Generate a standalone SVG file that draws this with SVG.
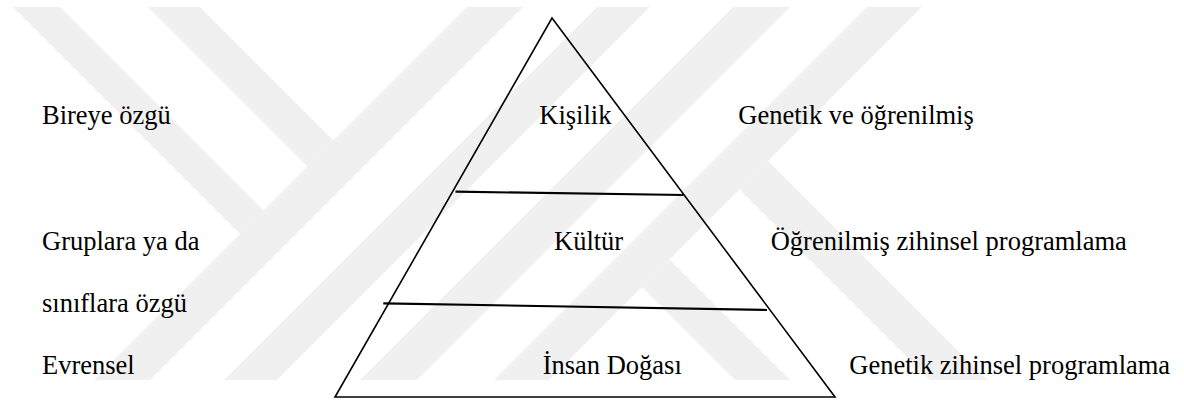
<svg xmlns="http://www.w3.org/2000/svg" width="1184" height="401" viewBox="0 0 1184 401">
<style>
  .t { font-family: 'Liberation Serif', 'Times New Roman', Times, 'DejaVu Serif', serif; font-size: 26.5px; fill: #000; }
  .wm { fill: #f0f0f0; }
  .edge { fill: none; stroke: #000; stroke-width: 1.6; stroke-linejoin: miter; }
  .div { stroke: #000; stroke-width: 2.2; fill: none; }
</style>
<defs>
  <clipPath id="wmclip"><rect x="0" y="7" width="1184" height="373"/></clipPath>
</defs>
<rect width="1184" height="401" fill="#fff"/>
<g id="watermark" clip-path="url(#wmclip)">
  <polygon class="wm" points="6,0 53,0 263.5,210.5 240,234"/>
  <polygon class="wm" points="141,0 193,0 333.5,140.5 307.5,166.5"/>
  <polygon class="wm" points="474,0 530,0 129,401 73,401"/>
  <polygon class="wm" points="604,0 657,0 256,401 203,401"/>
  <polygon class="wm" points="740,0 797,0 396,401 339,401"/>
  <polygon class="wm" points="874,0 929,0 528,401 473,401"/>
  <polygon class="wm" points="669.5,259.5 811,401 756,401 642,287"/>
  <polygon class="wm" points="768,161 1008,401 951,401 739.5,189.5"/>
</g>
<g id="pyramid">
  <polygon class="edge" points="552,18 835,397 335,397"/>
</g>
<g id="connectors">
  <line class="div" x1="455.5" y1="191.7" x2="683.5" y2="195"/>
  <line class="div" x1="383.3" y1="303.3" x2="767" y2="310"/>
</g>
<g id="level-kisilik">
  <text class="t" font-family="Liberation Serif, serif" x="539.3" y="124">Kişilik</text>
</g>
<g id="level-kultur">
  <text class="t" x="554" y="250">Kültür</text>
</g>
<g id="level-insan">
  <text class="t" x="542.7" y="374">İnsan Doğası</text>
</g>
<g id="left-labels">
  <text class="t" x="42" y="124">Bireye özgü</text>
  <text class="t" x="42" y="250">Gruplara ya da</text>
  <text class="t" x="42" y="312">sınıflara özgü</text>
  <text class="t" x="42" y="374">Evrensel</text>
</g>
<g id="right-labels">
  <text class="t" x="738.3" y="124">Genetik ve öğrenilmiş</text>
  <text class="t" x="770.7" y="250">Öğrenilmiş zihinsel programlama</text>
  <text class="t" x="849.3" y="374">Genetik zihinsel programlama</text>
</g>
</svg>
